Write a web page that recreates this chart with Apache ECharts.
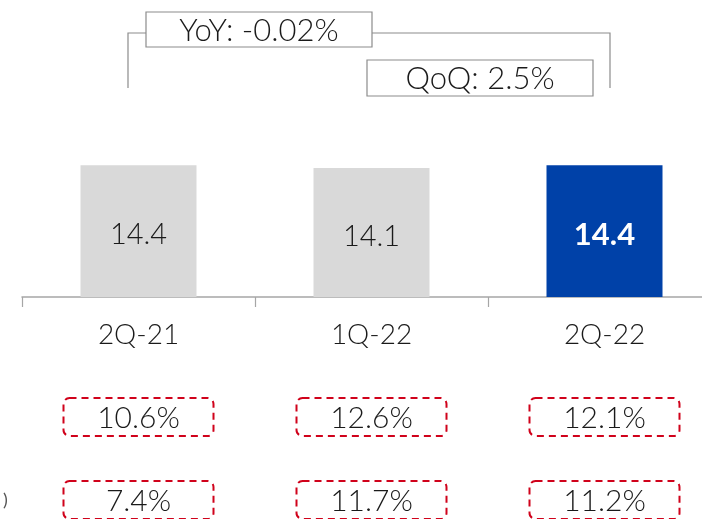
<!DOCTYPE html>
<html lang="en">
<head>
    <meta charset="UTF-8">
    <title>Chart</title>
    <style>
        * { padding: 0; margin: 0; }
        body { background: #fff; }
        #main { width: 702px; height: 519px; }
    </style>
    <script src="https://cdn.jsdelivr.net/npm/echarts@6/dist/echarts.min.js"></script>
</head>
<body>
    <div id="main"></div>
<script>
    var categories = ["2Q-21", "1Q-22", "2Q-22"];
    var values = [14.4, 14.1, 14.4];
    var rowOne = ["10.6%", "12.6%", "12.1%"];
    var rowTwo = ["7.4%", "11.7%", "11.2%"];
    var yoyText = "YoY: -0.02%";
    var qoqText = "QoQ: 2.5%";

    var font = "Lato, 'Noto Sans', sans-serif";
    var chart = echarts.init(document.getElementById("main"));

    var barData = values.map(function (v, i) {
        var last = i === values.length - 1;
        return {
            value: v,
            itemStyle: { color: last ? "#0041a8" : "#d9d9d9" },
            label: {
                color: last ? "#fff" : "#1a1a1a",
                fontWeight: last ? "bold" : 300,
                fontSize: last ? 31 : 29
            }
        };
    });

    chart.setOption({
        animation: false,
        grid: { left: 22, top: 114, width: 699, height: 183, outerBoundsMode: "none", containLabel: false },
        xAxis: {
            type: "category",
            data: categories,
            axisLine: { lineStyle: { color: "#a6a6a6", width: 1.5 } },
            axisTick: { show: true, length: 10, lineStyle: { color: "#a6a6a6", width: 1.2 } },
            axisLabel: { margin: 24, fontSize: 28, color: "#1a1a1a", fontFamily: font, fontWeight: 300 }
        },
        yAxis: { type: "value", min: 0, max: 20, show: false, splitLine: { show: false } },
        series: [{
            type: "bar",
            data: barData,
            barWidth: 116,
            label: {
                show: true,
                position: "inside",
                offset: [0, 4],
                fontFamily: font,
                formatter: function (p) { return p.value.toFixed(1); }
            }
        }]
    });

    // annotations and the two rows of dashed boxes, placed at each category centre
    var elements = [];
    var lineStyle = { stroke: "#8c8c8c", lineWidth: 1.2, fill: null };
    elements.push({ type: "polyline", shape: { points: [[128, 88], [128, 33], [146, 33]] }, style: lineStyle });
    elements.push({ type: "polyline", shape: { points: [[372, 33], [610, 33], [610, 88]] }, style: lineStyle });
    elements.push({ type: "rect", shape: { x: 146, y: 12, width: 226, height: 35 }, style: { stroke: "#8c8c8c", lineWidth: 1.2, fill: "#fff" } });
    elements.push({ type: "text", x: 259, y: 31, style: { text: yoyText, fontSize: 31, fontFamily: font, fontWeight: 300, fill: "#1a1a1a", align: "center", verticalAlign: "middle" } });
    elements.push({ type: "rect", shape: { x: 367, y: 60, width: 226, height: 36 }, style: { stroke: "#8c8c8c", lineWidth: 1.2, fill: "#fff" } });
    elements.push({ type: "text", x: 480, y: 79, style: { text: qoqText, fontSize: 31, fontFamily: font, fontWeight: 300, fill: "#1a1a1a", align: "center", verticalAlign: "middle" } });

    function dashedRow(texts, top) {
        texts.forEach(function (t, i) {
            var cx = chart.convertToPixel({ xAxisIndex: 0 }, categories[i]);
            elements.push({
                type: "rect",
                shape: { x: cx - 75, y: top, width: 150, height: 38, r: 6 },
                style: { stroke: "#d0021b", lineWidth: 2, lineDash: [7, 5], fill: null }
            });
            elements.push({
                type: "text", x: cx, y: top + 20,
                style: { text: t, fontSize: 30, fontFamily: font, fontWeight: 300, fill: "#1a1a1a", align: "center", verticalAlign: "middle" }
            });
        });
    }
    dashedRow(rowOne, 398);
    dashedRow(rowTwo, 481);

    elements.push({ type: "text", x: 3, y: 500, style: { text: ")", fontSize: 18, fontFamily: font, fill: "#555", verticalAlign: "middle" } });

    chart.setOption({ graphic: { elements: elements } });
</script>
</body>
</html>
